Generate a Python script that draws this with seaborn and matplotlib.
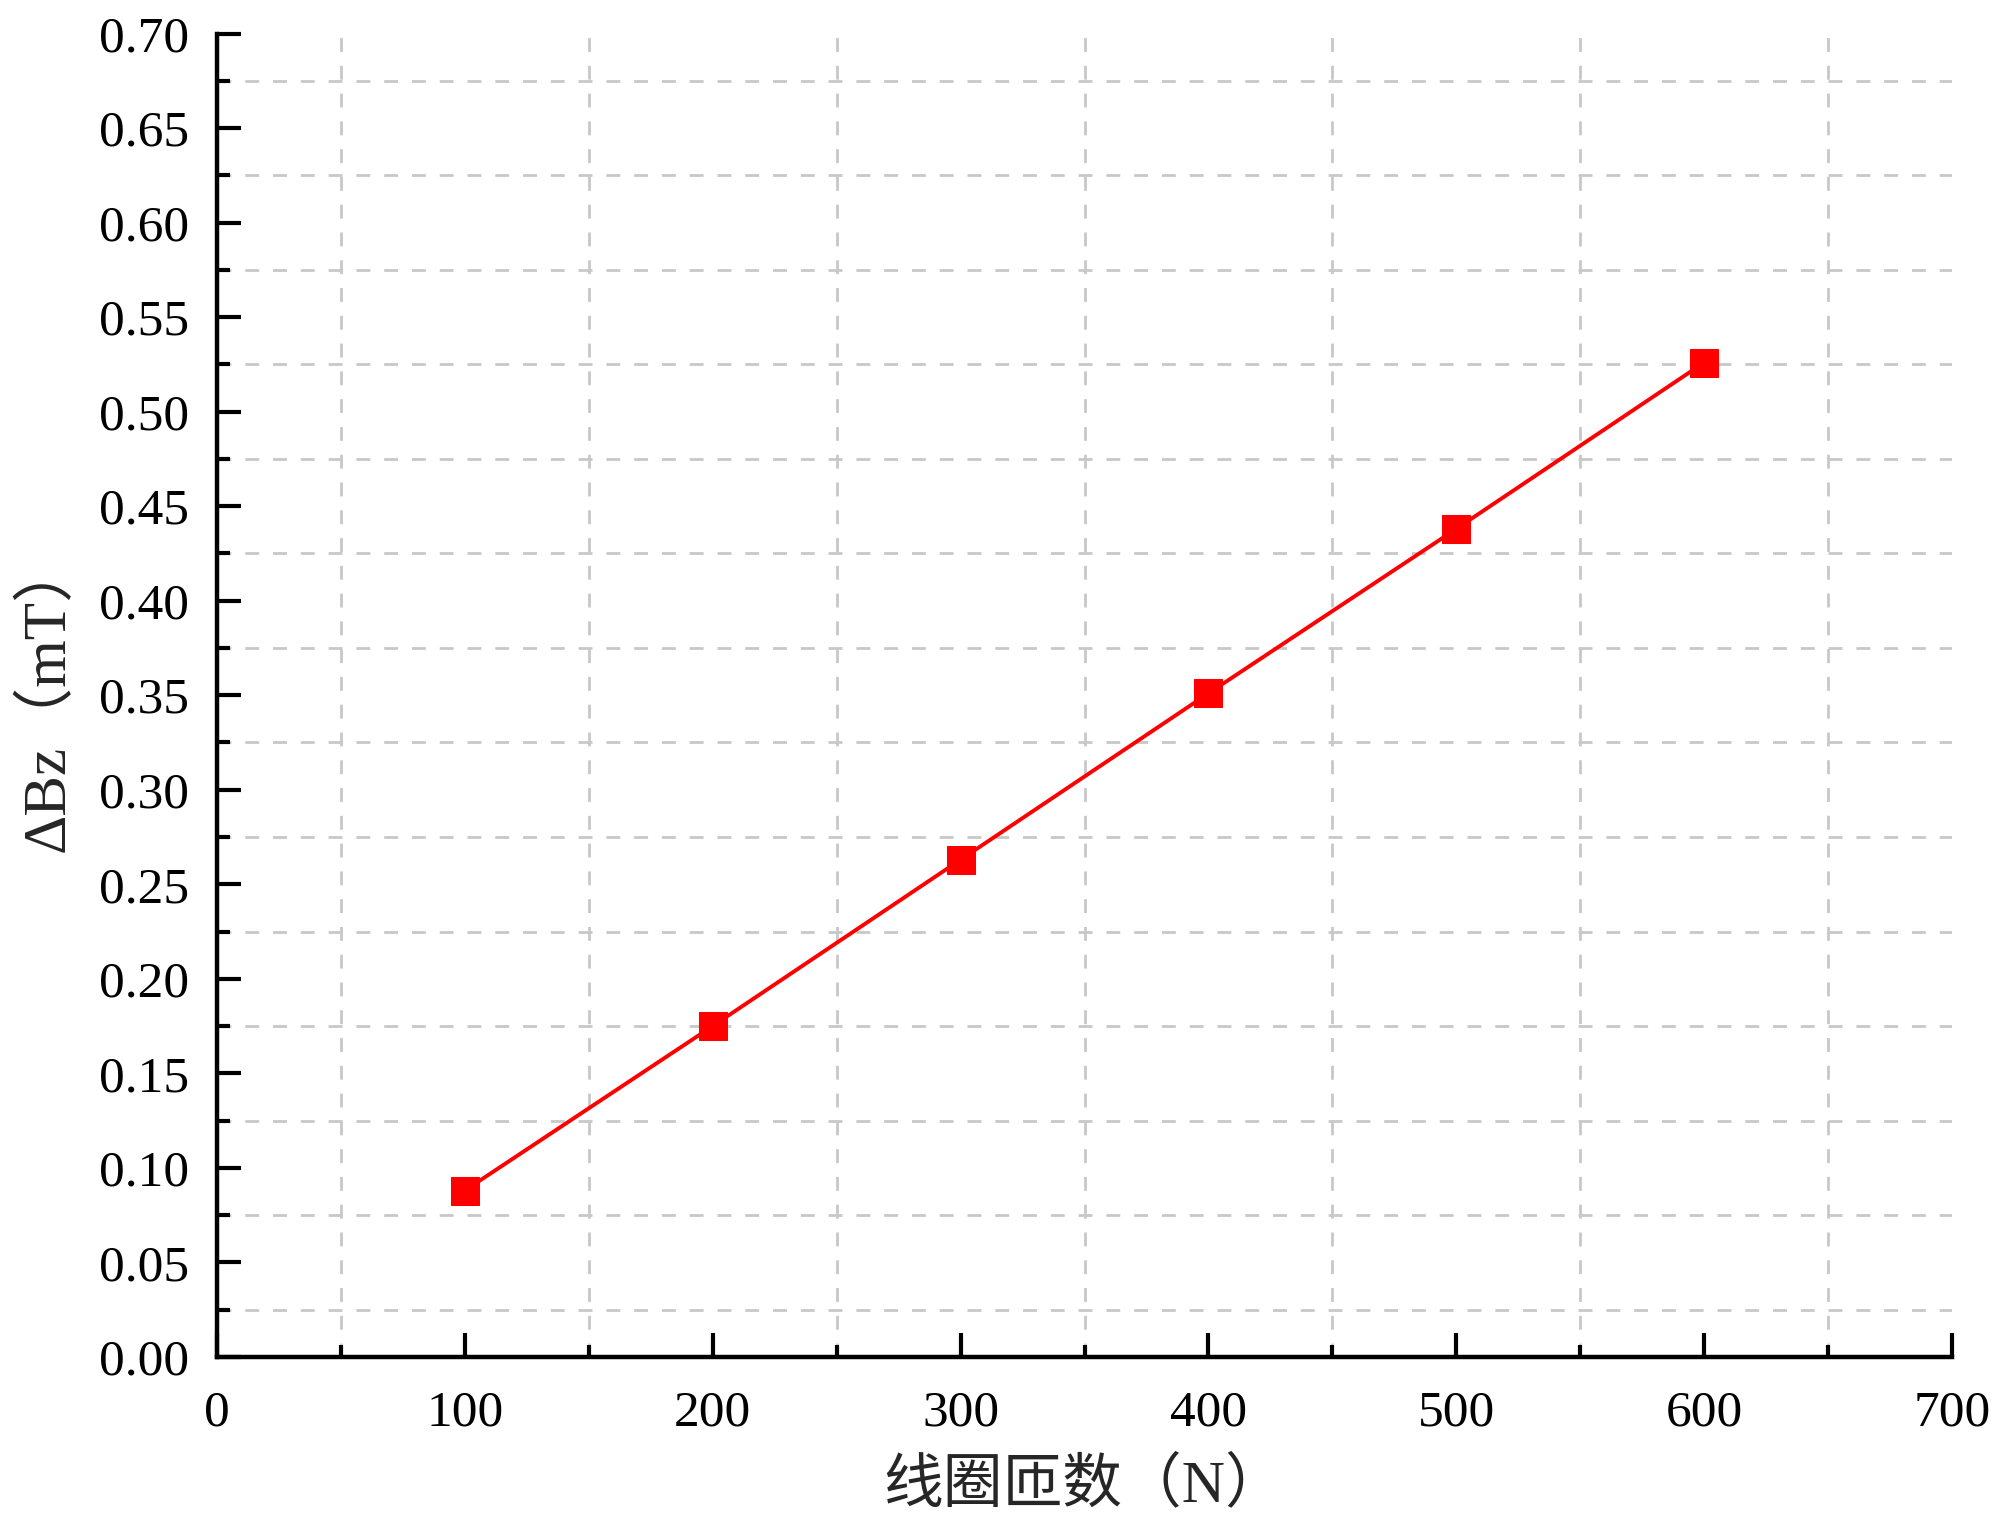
import matplotlib
matplotlib.use("Agg")
import matplotlib.pyplot as plt
from matplotlib.ticker import MultipleLocator, StrMethodFormatter
import seaborn as sns

# 데이터 - 그림에서 읽은 값
turns = [100, 200, 300, 400, 500, 600]
delta_bz = [0.088, 0.175, 0.263, 0.351, 0.438, 0.526]

sns.set_theme(style="ticks")
plt.rcParams["font.family"] = ["Liberation Serif", "Noto Sans CJK SC"]
plt.rcParams["axes.unicode_minus"] = False

fig = plt.figure(figsize=(20, 15.28), dpi=100)
ax = fig.add_axes([0.1085, 0.112, 0.8675, 0.866])

sns.lineplot(x=turns, y=delta_bz, ax=ax, color="#ff0000", linewidth=2.8,
             marker="s", markersize=20, markeredgecolor="#ff0000", zorder=3)

ax.set_xlim(0, 700)
ax.set_ylim(0, 0.70)
ax.xaxis.set_major_locator(MultipleLocator(100))
ax.xaxis.set_minor_locator(MultipleLocator(50))
ax.yaxis.set_major_locator(MultipleLocator(0.05))
ax.yaxis.set_minor_locator(MultipleLocator(0.025))
ax.yaxis.set_major_formatter(StrMethodFormatter("{x:.2f}"))

# 격자 - 보조 눈금에만 점선
ax.grid(False, which="major")
ax.grid(True, which="minor", color="#c8c8c8", linewidth=2, linestyle=(0, (5, 5)))

for side in ["top", "right"]:
    ax.spines[side].set_visible(False)
for side in ["left", "bottom"]:
    ax.spines[side].set_linewidth(3.2)
    ax.spines[side].set_color("black")

ax.tick_params(which="major", direction="in", length=17, width=3, labelsize=37, colors="black")
ax.tick_params(axis="y", which="major", pad=20)
ax.tick_params(axis="x", which="major", pad=24)
ax.tick_params(which="minor", direction="in", length=9, width=3, colors="black")

ax.set_xlabel("线圈匝数（N）", fontsize=43, va="center")
ax.set_ylabel("ΔBz（mT）", fontsize=44, va="center")
ax.xaxis.set_label_coords(0.5, -0.0975)
ax.yaxis.set_label_coords(-0.0974, 0.5)

fig.savefig("out.png", dpi=100)
